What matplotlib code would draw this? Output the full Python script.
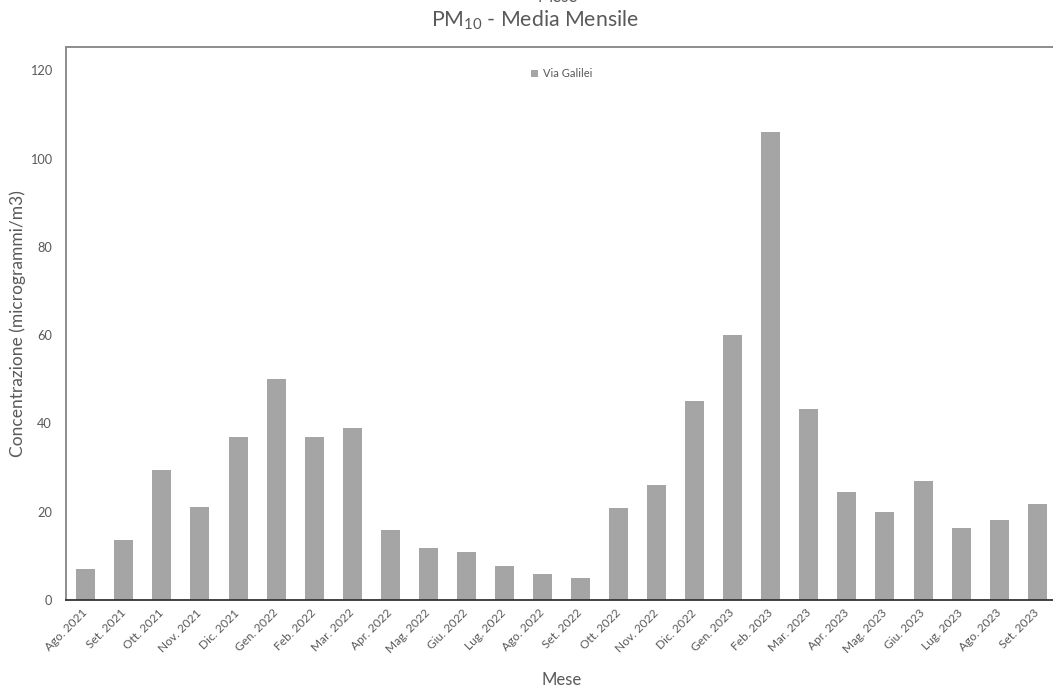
import matplotlib
matplotlib.use("Agg")
import matplotlib.pyplot as plt
import numpy as np

plt.rcParams['font.family'] = ['Lato', 'DejaVu Sans']
plt.rcParams['mathtext.fontset'] = 'custom'
plt.rcParams['mathtext.rm'] = 'Lato'
plt.rcParams['mathtext.it'] = 'Lato:italic'
plt.rcParams['mathtext.bf'] = 'Lato:bold'

months = ["Ago. 2021", "Set. 2021", "Ott. 2021", "Nov. 2021", "Dic. 2021",
          "Gen. 2022", "Feb. 2022", "Mar. 2022", "Apr. 2022", "Mag. 2022",
          "Giu. 2022", "Lug. 2022", "Ago. 2022", "Set. 2022", "Ott. 2022",
          "Nov. 2022", "Dic. 2022", "Gen. 2023", "Feb. 2023", "Mar. 2023",
          "Apr. 2023", "Mag. 2023", "Giu. 2023", "Lug. 2023", "Ago. 2023",
          "Set. 2023"]
pm10_galilei = [7.0, 13.6, 29.5, 21.0, 36.9,
                50.0, 36.9, 38.9, 15.8, 11.8,
                10.9, 7.7, 5.9, 4.9, 20.8,
                26.0, 45.1, 60.1, 106.0, 43.2,
                24.5, 20.0, 27.0, 16.3, 18.2,
                21.7]
y_ticks = [0, 20, 40, 60, 80, 100, 120]

W, H = 1053, 692
fig = plt.figure(figsize=(W / 100, H / 100), dpi=100)
fig.patch.set_facecolor('white')

left, right, top, bottom = 66, 1057, 47, 600
ax = fig.add_axes([left / W, 1 - bottom / H, (right - left) / W, (bottom - top) / H])

x = np.arange(len(months))
ax.bar(x, pm10_galilei, width=0.5, color='#A5A5A5', label='Via Galilei', zorder=2)

ax.set_xlim(-0.52, len(months) - 0.48)
ax.set_ylim(0, 125.3)
ax.set_yticks(y_ticks)
ax.set_yticklabels([str(v) for v in y_ticks])
ax.set_xticks(x)
ax.set_xticklabels(months, rotation=45, ha='right', va='center', rotation_mode='anchor')

text_col = '#595959'
ax.tick_params(axis='y', length=0, pad=10, labelsize=9.2, labelcolor=text_col)
ax.tick_params(axis='x', length=0, pad=8, labelsize=8.6, labelcolor=text_col)

for side in ['left', 'top', 'right']:
    ax.spines[side].set_color('#8c8c8c')
    ax.spines[side].set_linewidth(1.4)
ax.spines['bottom'].set_color('#333333')
ax.spines['bottom'].set_linewidth(1.3)

# axis titles placed in figure pixels
fig.text(18 / W, 1 - 324 / H, 'Concentrazione (microgrammi/m3)', rotation=90,
         ha='center', va='center', fontsize=12.5, color=text_col)
fig.text(562 / W, 1 - 680 / H, 'Mese', ha='center', va='center',
         fontsize=12, color=text_col)

fig.text(535 / W, 1 - 20 / H, r'PM$_{10}$ - Media Mensile', ha='center', va='center',
         fontsize=15.3, color=text_col)
fig.text(558 / W, 1 + 3 / H, 'Mese', ha='center', va='center', fontsize=12, color=text_col)

leg = ax.legend(loc='upper center', bbox_to_anchor=(0.5, 1 - 17 / (bottom - top)),
                frameon=False, fontsize=8, handlelength=0.7, handleheight=0.7,
                handletextpad=0.4, borderaxespad=0)
for t in leg.get_texts():
    t.set_color(text_col)

fig.savefig('out.png', dpi=100)
